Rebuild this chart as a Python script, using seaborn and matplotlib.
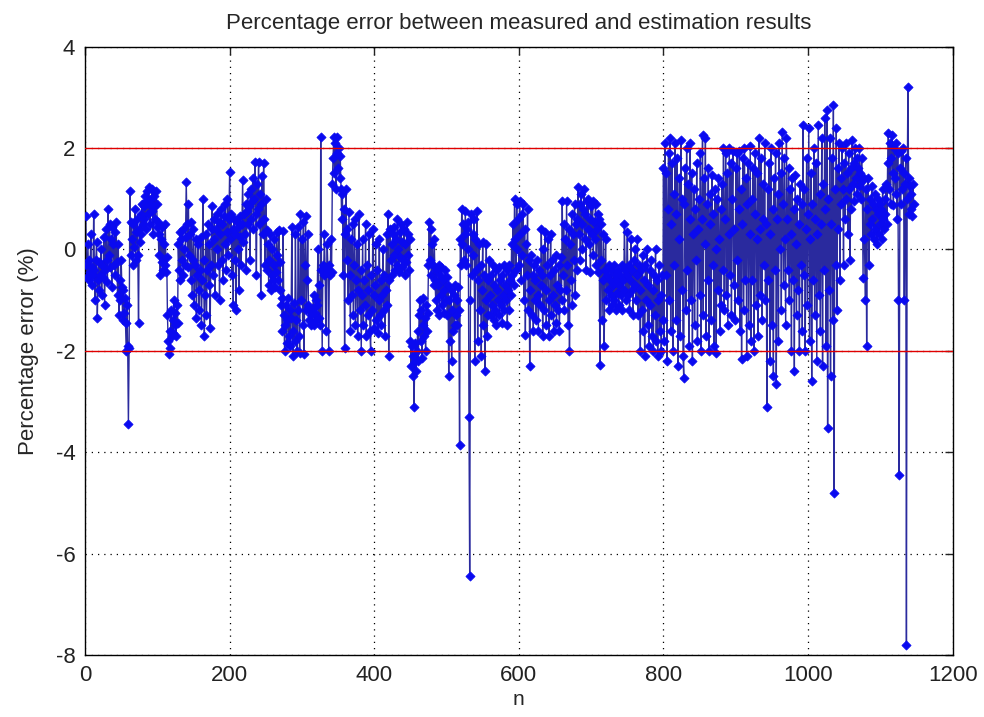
import numpy as np
import pandas as pd
import matplotlib
matplotlib.use("Agg")
import matplotlib.pyplot as plt
import seaborn as sns

# percentage error per sample (n = 1, 2, ...)
err_001 = [0.65,-0.3,-0.55,0.1,-0.6,-0.2,-0.45,0.3,-0.7,-0.35,-0.5,0.7,-0.4,-1.0,-0.2,0.15,-1.35,-0.6,-0.25,-0.8,
           -0.5,0.0,-0.9,-0.3,-0.55,0.25,-1.1,-0.4,0.4,-0.2,-0.65,0.8,-0.1,0.5,-0.35,0.2,-0.75,0.45,0.1,-0.3,
           0.35,-0.5,0.55,-0.25,-0.9,0.1,-1.3,-0.6,-1.0,-0.2,-0.75,-1.4,-0.8,-1.25,-0.95,-1.45,-2.0,-1.1,-1.9,-3.45,
           -1.95,1.15,-0.1,0.55,0.2,-0.3,0.5,0.05,0.8,-0.2,0.35,0.6,-0.1,-1.45,0.4,0.15,0.7,0.3,0.9,0.5,
           0.85,0.6,1.05,0.4,0.95,1.15,0.7,1.24,0.9,0.5,1.0,0.75,1.2,0.3,0.85,1.05,0.6,1.15,0.9,0.45]
err_101 = [0.55,-0.1,0.3,-0.5,0.2,-0.25,0.45,-0.4,0.1,-0.3,0.5,-0.45,-0.15,-1.3,-1.8,-2.07,-1.6,-1.95,-1.2,-1.7,
           -1.4,-1.65,-1.0,-1.5,-1.25,-1.7,-1.1,-1.45,0.1,-0.4,0.35,-0.6,0.2,-0.2,0.4,-0.5,0.0,-0.3,0.25,1.34,
           0.5,-0.35,0.9,-0.1,0.3,-0.6,0.55,-0.9,-0.2,0.4,-1.1,-0.3,0.2,-1.35,-0.5,0.1,-0.8,-1.2,-0.4,0.25,
           -1.5,-0.6,1.0,-0.2,-1.7,-0.9,0.3,-1.3,-0.4,0.5,-0.7,0.1,-1.55,-0.3,0.4,0.85,-0.5,0.2,0.6,-0.9,
           0.4,0.0,0.7,-0.3,0.55,-1.0,0.3,0.8,-0.2,0.5,-0.6,0.65,0.1,0.9,-0.4,0.35,1.0,-0.1,0.6,1.53]
err_201 = [0.2,0.7,-0.5,0.4,-1.1,0.6,-0.2,0.3,-1.2,0.55,0.0,0.45,-0.8,0.65,0.25,-0.3,0.5,1.37,0.15,0.7,
           0.3,0.9,-0.4,0.75,1.1,0.5,0.85,-0.2,1.2,0.6,0.95,1.4,0.4,1.0,1.73,0.7,-0.5,1.3,0.8,1.72,
           0.5,1.1,-0.9,0.9,1.45,0.3,1.7,0.6,-0.3,1.0,0.38,-0.4,0.1,-0.7,-0.2,0.3,-0.8,-0.5,0.0,-0.6,
           -0.3,0.2,-0.75,-0.45,0.35,-0.1,-0.6,0.38,-0.8,-0.25,-1.1,-0.95,-1.6,0.37,-1.3,-2.0,-1.5,-1.1,-1.85,-1.4,
           -0.95,-1.7,-1.2,-1.9,-1.35,0.45,-1.6,-2.1,-1.05,-1.8,0.3,-1.4,-2.0,-1.2,0.45,-1.7,-2.05,0.7,-1.0,0.2]
err_301 = [-1.5,0.55,-2.07,-0.3,0.65,-1.2,-0.6,0.3,-1.1,-1.4,-1.2,-1.5,-1.3,-1.45,-1.15,-0.9,-1.5,-1.25,-1.0,-1.4,
           -1.1,0.0,-1.35,-0.7,-1.5,2.22,-0.4,-2.0,-0.3,-0.5,0.3,-0.35,-1.6,-0.45,0.1,-0.4,-2.0,-0.3,-0.5,0.2,
           -0.45,1.3,1.8,2.22,1.5,2.1,1.2,1.9,2.22,1.6,2.0,1.4,1.85,1.2,0.6,1.1,-0.5,0.8,-1.95,0.3,
           1.2,-0.2,0.4,-1.0,0.74,-0.5,-1.6,0.2,-0.9,0.5,-1.3,-0.3,0.6,-1.5,-0.6,0.1,-1.7,-0.8,0.7,-1.2,
           -0.4,-2.0,-0.9,0.2,-1.5,-0.6,-1.1,0.5,-1.7,-0.3,-1.3,-0.8,0.3,-1.6,-2.0,-0.5,-1.2,0.4,-0.9,-1.55]
err_401 = [-0.7,0.1,-1.4,-0.4,-1.65,-1.0,0.2,-1.3,-0.6,-1.5,-0.9,0.0,-1.2,-0.5,-1.7,-0.8,0.3,-1.1,0.7,-2.1,
           -0.6,0.4,-0.2,0.1,-0.5,0.3,-0.1,0.45,-0.4,0.2,-0.3,0.6,0.0,-0.45,0.35,-0.15,0.5,-0.35,0.15,-0.2,
           0.4,-0.5,0.1,-0.25,0.55,-0.1,0.3,-0.4,0.2,-1.8,-2.3,-1.9,-2.5,-2.1,-3.1,-2.2,-1.85,-2.4,-2.0,-1.6,
           -2.2,-1.3,-1.0,-1.8,-1.2,-2.15,-1.5,-0.95,-1.7,-1.35,-2.0,-1.1,-1.6,-1.25,-0.3,0.55,-0.2,0.4,-0.5,0.1,
           -0.3,-0.7,0.2,-0.6,-1.0,-0.4,-1.2,-0.7,-0.3,-1.3,-0.5,-0.9,-0.35,-1.1,-0.6,-1.25,-0.8,-0.4,-1.0,-0.55]
err_501 = [-1.3,-0.7,-2.5,-1.0,-1.8,-0.8,-2.2,-1.2,-1.6,-0.9,-1.5,-0.7,-1.3,-1.0,-1.5,-0.75,-1.2,-3.85,0.2,-0.3,
           0.8,0.1,0.5,-0.2,0.3,0.75,-0.3,0.4,0.0,0.55,-3.3,-6.45,-1.0,0.7,-0.5,0.3,-0.1,0.6,-2.2,0.2,
           -0.4,0.75,-1.8,-0.6,0.1,-1.2,-0.3,-2.1,-0.8,0.15,-1.5,-0.5,-2.4,-1.0,0.1,-1.7,-0.6,-1.3,-0.2,-0.9,
           -1.3,-0.5,-1.1,-0.3,-1.4,-0.7,-1.2,-0.4,-1.5,-0.8,-1.0,-0.35,-1.3,-0.6,-1.1,-0.5,-1.45,-0.9,-0.3,-1.2,
           -0.7,-1.0,-0.4,-1.5,-0.8,-0.3,-1.2,-0.6,-0.9,0.1,-0.5,0.5,-0.7,1.0,0.2,-0.4,0.9,0.0,0.6,-0.3]
err_601 = [0.95,0.3,-0.6,0.7,-0.1,0.9,-1.0,0.4,-1.68,0.1,-0.5,0.8,-1.2,-0.2,-2.3,-0.8,-0.1,-1.3,-0.5,-1.6,
           -0.3,-1.0,-0.6,-1.4,-0.2,-0.9,-1.6,-0.4,-1.1,-0.7,0.4,-0.5,-1.7,0.0,-1.2,0.35,-0.8,-1.5,-0.3,0.2,
           -1.0,-1.7,-0.5,0.3,-1.3,-0.2,-0.9,-1.6,-0.4,-1.1,-0.1,-1.45,-0.7,-1.2,-0.3,-1.6,-0.8,-0.15,-1.0,0.95,
           -0.5,0.5,-1.2,0.2,-0.8,0.95,-0.3,-1.5,0.4,-2.0,0.1,-0.6,0.7,-1.1,0.3,-0.2,0.9,-0.9,0.5,-0.4,
           0.6,1.24,0.3,0.9,-0.2,1.1,0.5,0.0,0.8,1.2,0.2,0.7,-0.4,0.95,0.4,1.0,0.1,0.6,-0.45,0.85]
err_701 = [0.3,0.95,-0.1,0.55,0.2,0.9,-0.3,0.4,0.7,-0.45,0.6,-2.27,-0.2,0.5,-1.4,-0.6,0.3,-1.9,-0.4,0.2,
           -1.0,-0.5,-0.8,-0.3,-1.2,-0.6,-0.9,-0.4,-1.1,-0.7,-0.3,-1.0,-0.5,-1.2,-0.6,-0.85,-0.4,-1.1,-0.7,-0.5,
           -0.9,-0.3,-1.2,-0.6,-0.8,0.5,-0.4,-1.0,-0.5,0.34,-0.9,-0.3,-1.2,-0.6,0.2,-0.8,-0.4,-1.3,-0.2,-0.7,
           0.0,-1.0,-0.5,0.2,-1.3,-0.3,-0.8,-2.0,-0.4,-1.2,-0.1,-1.6,-0.6,-2.1,-0.3,-1.0,0.0,-1.5,-0.7,-1.9,
           -0.4,-1.1,-0.2,-1.7,-0.8,-2.0,-0.5,-1.3,0.0,-1.8,-0.6,-2.1,-1.0,-0.3,-1.6,-0.9,-2.0,-0.5,-1.4,1.6]
err_801 = [-1.8,2.1,-0.5,1.5,-2.2,0.8,1.9,-1.0,2.19,-1.6,0.5,1.7,-2.0,1.1,-0.3,2.1,-1.4,0.7,1.8,-2.3,
           0.2,1.4,-1.7,2.15,-0.8,1.0,-2.1,-2.53,0.9,1.6,-1.2,2.0,-0.4,1.3,-1.9,0.6,2.1,-1.0,1.5,-2.2,
           0.3,1.2,-1.5,0.8,-0.2,1.7,-1.8,0.4,1.0,-0.9,1.9,-2.0,0.6,2.26,-1.3,1.4,0.1,2.2,-1.7,0.9,
           -0.6,1.6,-2.0,0.5,1.1,-1.4,1.47,-0.3,0.7,-1.9,1.2,0.0,-2.05,1.0,-0.8,1.4,0.2,-1.6,0.8,-1.1,
           1.3,-0.4,2.0,-1.2,0.6,1.9,-0.9,1.5,-1.5,0.3,2.0,-0.5,1.7,-1.3,1.0,1.95,-0.7,0.4,-1.4,1.6]
err_901 = [-0.2,1.9,-1.0,0.8,1.95,-1.6,1.2,-2.17,0.5,1.8,-1.2,2.0,-0.6,1.4,-2.1,0.9,1.7,-1.5,0.3,2.05,
           -1.8,1.0,-0.6,1.6,-2.0,0.7,1.9,-1.1,0.2,1.5,-1.7,2.2,0.4,-0.9,1.8,-1.4,0.6,1.3,-0.3,2.1,
           -1.0,0.5,-3.1,1.2,-0.6,1.7,-2.2,0.3,2.0,-1.5,0.8,-2.5,1.4,-0.4,1.9,-2.66,0.6,1.1,-1.8,2.1,
           0.0,1.5,-1.2,2.32,0.9,-0.7,1.8,0.2,-1.5,2.2,0.6,-0.4,1.6,-1.0,1.2,0.3,-2.0,1.4,-0.6,0.8,
           -2.4,1.47,0.1,-1.3,1.0,-0.8,0.5,-2.0,1.3,-0.3,0.9,-1.6,2.46,-0.5,1.2,-2.0,0.4,1.8,-1.1,0.7]
err_1001 = [2.4,-1.8,0.2,1.5,-2.6,0.9,-0.6,2.0,-1.3,0.6,1.7,-2.2,0.3,2.46,-0.9,1.1,-1.6,0.5,2.2,-2.3,
            1.3,-0.4,2.6,0.8,-1.9,2.75,-3.52,1.0,-0.8,2.2,-2.5,0.5,1.8,-1.4,2.85,-4.8,1.2,-0.3,2.4,-1.2,
            1.6,0.4,2.1,-0.6,1.4,0.9,2.0,1.2,-0.3,1.7,0.6,2.1,1.0,1.5,0.3,1.9,1.2,-0.2,1.6,0.8,
            2.15,1.3,1.7,0.95,2.0,1.4,1.8,1.1,1.6,1.25,2.0,1.5,1.0,1.8,1.35,-0.57,1.4,0.2,-1.0,1.2,
            -1.9,0.8,1.4,-0.3,0.5,1.0,0.3,1.25,0.6,0.9,0.2,1.1,0.4,0.8,0.1,0.7,1.0,0.3,0.9,0.5]
err_1101 = [0.8,0.2,1.2,0.6,0.4,1.0,0.7,1.3,0.5,1.7,2.3,1.2,2.1,0.9,1.8,2.25,1.5,0.87,2.0,1.4,
            1.1,2.1,0.6,1.9,-1.0,-4.45,1.6,0.9,1.95,1.2,2.0,1.5,-1.0,1.3,1.8,-7.8,1.0,3.2,1.4,0.7,
            1.25,0.8,1.1,0.65,1.3,0.9]

x_ticks = [0, 200, 400, 600, 800, 1000, 1200]
y_ticks = [-8, -6, -4, -2, 0, 2, 4]
limit_lines = [2, -2]

err = err_001 + err_101 + err_201 + err_301 + err_401 + err_501 + \
      err_601 + err_701 + err_801 + err_901 + err_1001 + err_1101
df = pd.DataFrame({"n": np.arange(1, len(err) + 1), "err": err})

sns.set_style("white")
plt.rcParams["font.family"] = ["Liberation Sans", "DejaVu Sans"]
plt.rcParams["axes.unicode_minus"] = False

fig = plt.figure(figsize=(9.84, 7.17), dpi=100)
ax = fig.add_axes([0.0864, 0.0865, 0.8818, 0.8484])

sns.lineplot(data=df, x="n", y="err", ax=ax, color="#2a2a9e", lw=1.0, sort=False)
sns.scatterplot(data=df, x="n", y="err", ax=ax, color="#0a0af0", marker="D",
                s=22, edgecolor="#0a0af0", linewidth=0.5, zorder=3)
for yl in limit_lines:
    ax.axhline(yl, color="#e00000", lw=1.0, zorder=4)

ax.set_xlim(0, 1200)
ax.set_ylim(-8, 4)
ax.set_xticks(x_ticks)
ax.set_yticks(y_ticks)
ax.grid(True, linestyle=(0, (1, 4)), color="black", lw=0.9)
ax.tick_params(direction="in", length=6, width=1, top=True, right=True,
               labelsize=16, pad=7, colors="#222222")
for sp in ax.spines.values():
    sp.set_color("black")
    sp.set_linewidth(1.0)

ax.set_title("Percentage error between measured and estimation results", fontsize=16, pad=13)
ax.set_xlabel("n", fontsize=15, labelpad=3)
ax.set_ylabel("Percentage error (%)", fontsize=16, labelpad=12)

fig.savefig("out.png", dpi=100)
